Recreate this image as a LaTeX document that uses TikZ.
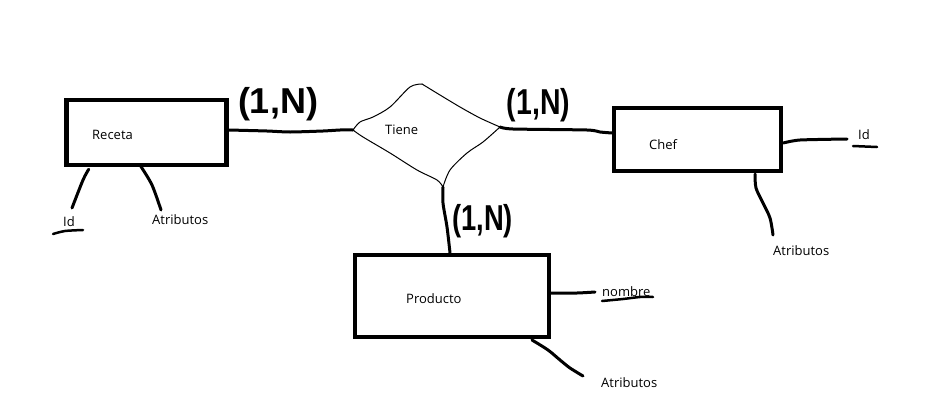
\documentclass[tikz,border=0pt]{standalone}
\usepackage{fontspec}
\setmainfont{Open Sans}
\newfontfamily\handfont{Liberation Sans}
\usetikzlibrary{calc}
\begin{document}
\begin{tikzpicture}[x=1pt,y=-1pt,
  entity/.style={draw, line width=4.5pt, inner sep=0pt},
  conn/.style={line width=3pt, line cap=round, line join=round},
  thin/.style={line width=1pt, line cap=round, line join=round},
  txt/.style={font=\fontsize{13}{15}\selectfont, inner sep=0pt, anchor=base west},
  card/.style={font=\handfont\bfseries\fontsize{36}{40}\selectfont, inner sep=0pt}
]
\useasboundingbox (0,0) rectangle (928,407);
\fill[white] (0,0) rectangle (928,407);

% entities
\node[entity, minimum width=160pt, minimum height=65pt] (receta) at (146.5,132.5) {};
\node[entity, minimum width=167pt, minimum height=63pt] (chef) at (697.5,139.5) {};
\node[entity, minimum width=194pt, minimum height=82pt] (producto) at (452,296) {};

\node[txt] (receta-t) at (92,139) {Receta};
\node[txt] (chef-t) at (649,149) {Chef};
\node[txt] (producto-t) at (406,303) {Producto};

% relationship diamond
\coordinate (tw) at (353,130);
\coordinate (tn) at (422,84);
\coordinate (te) at (500,127);
\coordinate (ts) at (443,187);
\draw[thin] plot[smooth, tension=0.5] coordinates {(tw) (360,122) (373,117) (390,107) (410,87) (tn)};
\draw[thin] plot[smooth, tension=0.5] coordinates {(tn) (440,95) (460,107) (480,118) (te)};
\draw[thin] plot[smooth, tension=0.5] coordinates {(te) (483,142) (467,153) (450,170) (ts)};
\draw[thin] plot[smooth, tension=0.5] coordinates {(ts) (437,180) (417,170) (390,153) (363,137) (tw)};
\node[txt] (tiene) at (385,134) {Tiene};

% connectors
\draw[conn] plot[smooth, tension=0.4] coordinates {(receta.east |- tw) (267,131) (290,132) (323,131) (340,130) (tw)};
\draw[conn] plot[smooth, tension=0.4] coordinates {(te) (513,129) (587,130) (600,132) ($(chef.west)+(0,-6.5)$)};
\draw[conn] plot[smooth, tension=0.5] coordinates {(ts) (443,203) (447,227) (producto.north -| 450,0)};

% cardinalities
\node[card] (c1) at (278,104.5) {(1,N)};
\node[card, xscale=0.79] (c2) at (538.5,105) {(1,N)};
\node[card, xscale=0.76] (c3) at (482.5,221) {(1,N)};

% Receta attributes
\node[txt] (r-id) at (63,226) {Id};
\node[txt] (r-attr) at (152,224) {Atributos};
\coordinate (r-id-end) at (72,208);
\coordinate (r-attr-end) at (161,210);
\draw[conn] plot[smooth] coordinates {($(receta.south west)+(24.5,2)$) (83,180) (r-id-end)};
\draw[conn] plot[smooth] coordinates {($(receta.south west)+(76.5,-1)$) (152,185) (r-attr-end)};
\coordinate (r-u1) at (53,234);
\coordinate (r-u2) at (83,230);
\draw[conn, line width=2.5pt] plot[smooth] coordinates {(r-u1) (65,231) (r-u2)};

% Chef attributes
\node[txt] (c-id) at (858,139) {Id};
\node[txt] (c-attr) at (773,255) {Atributos};
\coordinate (c-id-end) at (847,139);
\coordinate (c-attr-end) at (773,235);
\draw[conn] plot[smooth, tension=0.4] coordinates {(chef.east |- 0,143) (800,140) (c-id-end)};
\draw[conn] plot[smooth, tension=0.5] coordinates {(755,174) (756,188) (763,203) (770,218) (c-attr-end)};
\coordinate (c-u1) at (853,146);
\coordinate (c-u2) at (877,147);
\draw[conn, line width=2.5pt] (c-u1) -- (c-u2);

% Producto attributes
\node[txt] (p-nombre) at (602,296) {nombre};
\node[txt] (p-attr) at (601,387) {Atributos};
\coordinate (p-n-end) at (595,292);
\coordinate (p-attr-end) at (583,376);
\draw[conn] plot[smooth, tension=0.4] coordinates {(producto.east |- 0,293) (577,293) (p-n-end)};
\draw[conn] plot[smooth, tension=0.5] coordinates {(532,340) (548,350) (560,360) (570,368) (p-attr-end)};
\coordinate (p-u1) at (602,301);
\coordinate (p-u2) at (653,297);
\draw[conn, line width=2.5pt] plot[smooth, tension=0.5] coordinates {(p-u1) (623,299) (640,297) (p-u2)};
\end{tikzpicture}
\end{document}
